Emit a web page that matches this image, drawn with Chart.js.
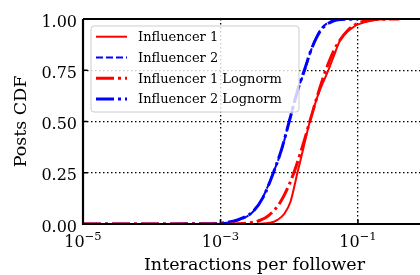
<!DOCTYPE html>
<html>
<head>
<meta charset="utf-8">
<script src="https://cdn.jsdelivr.net/npm/chart.js@4.4.0/dist/chart.umd.min.js"></script>
<style>
  html, body { margin: 0; padding: 0; background: #fff; }
  canvas { display: block; }
</style>
</head>
<body>
<canvas id="cdfChart" width="420" height="275"></canvas>
<script>
// series names (legend order)
const seriesNames = ['Influencer 1', 'Influencer 2', 'Influencer 1 Lognorm', 'Influencer 2 Lognorm'];

// Influencer 1 empirical CDF
const inf1X = [0.00001, 0.002512, 0.005248, 0.006761, 0.008511, 0.01047, 0.01318, 0.01585, 0.01995, 0.0263, 0.03715, 0.04467, 0.0547, 0.08511, 0.1337, 0.2089, 0.3981];
const inf1Y = [0, 0, 0.006, 0.02, 0.05, 0.11, 0.25, 0.361, 0.5, 0.63, 0.75, 0.82, 0.894, 0.96, 0.987, 0.998, 1.0];

// Influencer 2 empirical CDF
const inf2X = [0.00001, 0.000794, 0.00123, 0.001905, 0.002972, 0.004169, 0.005861, 0.007762, 0.01, 0.01349, 0.01694, 0.01995, 0.02799, 0.04365, 0.07079, 0.1, 0.1585];
const inf2Y = [0, 0, 0.006, 0.02, 0.06, 0.133, 0.25, 0.361, 0.5, 0.66, 0.75, 0.83, 0.943, 0.992, 0.999, 1, 1];

// Influencer 1 lognormal fit
const logn1X = [0.00001, 0.001259, 0.002512, 0.003715, 0.005012, 0.007413, 0.01, 0.01259, 0.01585, 0.01995, 0.02512, 0.03162, 0.03981, 0.05012, 0.07079, 0.1, 0.1585, 0.2512, 0.3981];
const logn1Y = [0, 0.0003, 0.0045, 0.017, 0.041, 0.106, 0.192, 0.281, 0.386, 0.5, 0.614, 0.719, 0.808, 0.877, 0.944, 0.979, 0.9955, 0.9993, 1];

// Influencer 2 lognormal fit
const logn2X = [0.00001, 0.000631, 0.001122, 0.001778, 0.002951, 0.004169, 0.005888, 0.007762, 0.01, 0.01349, 0.01698, 0.02089, 0.02818, 0.04365, 0.07079, 0.1];
const logn2Y = [0, 0.001, 0.006, 0.02, 0.06, 0.13, 0.25, 0.365, 0.5, 0.66, 0.76, 0.85, 0.94, 0.99, 0.999, 1];

// axes
const xTickValues = [1e-5, 1e-3, 1e-1];
const xTickExponents = ['\u22125', '\u22123', '\u22121'];
const yTickValues = [0, 0.25, 0.5, 0.75, 1];
const yTickLabels = ['0.00', '0.25', '0.50', '0.75', '1.00'];
const xTitle = 'Interactions per follower';
const yTitle = 'Posts CDF';

const SERIF = '"DejaVu Serif", serif';

function pts(xs, ys) {
    return xs.map((x, i) => ({ x: x, y: ys[i] }));
}

const frame = {
    id: 'frame',
    afterDatasetsDraw(chart) {
        const ctx = chart.ctx;
        const a = chart.chartArea;
        const xs = chart.scales.x, ys = chart.scales.y;
        ctx.save();

        // legend box
        const lx = 91, ly = 26, lw = 208, lh = 86, r = 3;
        ctx.beginPath();
        ctx.moveTo(lx + r, ly);
        ctx.arcTo(lx + lw, ly, lx + lw, ly + lh, r);
        ctx.arcTo(lx + lw, ly + lh, lx, ly + lh, r);
        ctx.arcTo(lx, ly + lh, lx, ly, r);
        ctx.arcTo(lx, ly, lx + lw, ly, r);
        ctx.closePath();
        ctx.fillStyle = 'rgba(255,255,255,0.8)';
        ctx.fill();
        ctx.strokeStyle = '#cccccc';
        ctx.lineWidth = 1;
        ctx.stroke();

        chart.data.datasets.forEach((ds, i) => {
            const cy = 36.7 + i * 20.8;
            ctx.beginPath();
            ctx.setLineDash(ds.borderDash || []);
            ctx.strokeStyle = ds.borderColor;
            ctx.lineWidth = ds.borderWidth;
            ctx.moveTo(96, cy);
            ctx.lineTo(127, cy);
            ctx.stroke();
            ctx.setLineDash([]);
            ctx.fillStyle = '#000';
            ctx.font = '13px ' + SERIF;
            ctx.textAlign = 'left';
            ctx.textBaseline = 'middle';
            ctx.fillText(ds.label, 138, cy + 1);
        });

        // spines
        ctx.strokeStyle = '#000';
        ctx.lineWidth = 2.2;
        ctx.beginPath();
        ctx.moveTo(a.left, a.top);
        ctx.lineTo(a.right, a.top);
        ctx.moveTo(a.left, a.top);
        ctx.lineTo(a.left, a.bottom);
        ctx.moveTo(a.left - 1.1, a.bottom);
        ctx.lineTo(a.right, a.bottom);
        ctx.stroke();

        // inward ticks
        ctx.lineWidth = 1.6;
        ctx.beginPath();
        xTickValues.forEach(v => {
            const px = xs.getPixelForValue(v);
            ctx.moveTo(px, a.bottom);
            ctx.lineTo(px, a.bottom - 4.5);
        });
        yTickValues.forEach(v => {
            const py = ys.getPixelForValue(v);
            ctx.moveTo(a.left, py);
            ctx.lineTo(a.left + 4.5, py);
        });
        ctx.stroke();

        // y tick labels
        ctx.fillStyle = '#000';
        ctx.font = '16px ' + SERIF;
        ctx.textAlign = 'right';
        ctx.textBaseline = 'alphabetic';
        yTickValues.forEach((v, i) => {
            ctx.fillText(yTickLabels[i], a.left - 6, ys.getPixelForValue(v) + 7.5);
        });

        // x tick labels with superscript exponent
        ctx.textAlign = 'left';
        xTickValues.forEach((v, i) => {
            const px = xs.getPixelForValue(v);
            ctx.font = '16px ' + SERIF;
            const wb = ctx.measureText('10').width;
            ctx.font = '11.5px ' + SERIF;
            const we = ctx.measureText(xTickExponents[i]).width;
            const x0 = px - (wb + we) / 2;
            ctx.font = '16px ' + SERIF;
            ctx.fillText('10', x0, 247);
            ctx.font = '11.5px ' + SERIF;
            ctx.fillText(xTickExponents[i], x0 + wb, 240);
        });

        // axis titles
        ctx.font = '17.5px ' + SERIF;
        ctx.textAlign = 'center';
        ctx.textBaseline = 'alphabetic';
        ctx.fillText(xTitle, (a.left + a.right) / 2 + 3, 270);
        ctx.save();
        ctx.translate(26, (a.top + a.bottom) / 2);
        ctx.rotate(-Math.PI / 2);
        ctx.fillText(yTitle, 0, 0);
        ctx.restore();

        ctx.restore();
    }
};

const ctx = document.getElementById('cdfChart').getContext('2d');
new Chart(ctx, {
    type: 'line',
    data: {
        datasets: [
            { label: seriesNames[0], data: pts(inf1X, inf1Y), borderColor: '#ff0000', borderWidth: 2, borderDash: [] },
            { label: seriesNames[1], data: pts(inf2X, inf2Y), borderColor: '#0000ff', borderWidth: 2, borderDash: [7, 3] },
            { label: seriesNames[2], data: pts(logn1X, logn1Y), borderColor: '#ff0000', borderWidth: 3, borderDash: [18, 4, 3, 4] },
            { label: seriesNames[3], data: pts(logn2X, logn2Y), borderColor: '#0000ff', borderWidth: 3, borderDash: [18, 4, 3, 4] }
        ]
    },
    options: {
        responsive: false,
        animation: false,
        devicePixelRatio: 1,
        layout: { padding: { top: 19, right: 0, left: 0, bottom: 0 } },
        elements: {
            point: { radius: 0 },
            line: { cubicInterpolationMode: 'monotone', fill: false }
        },
        plugins: { legend: { display: false }, tooltip: { enabled: false } },
        scales: {
            x: {
                type: 'logarithmic',
                min: 1e-5,
                max: 0.8,
                afterBuildTicks: s => { s.ticks = xTickValues.map(v => ({ value: v })); },
                afterFit: s => { s.height = 51; },
                ticks: { display: false },
                grid: { color: '#000', lineWidth: 1.3, drawTicks: false },
                border: { display: false, dash: [1.5, 2.5] }
            },
            y: {
                min: 0,
                max: 1,
                afterBuildTicks: s => { s.ticks = yTickValues.map(v => ({ value: v })); },
                afterFit: s => { s.width = 83; },
                ticks: { display: false },
                grid: { color: '#000', lineWidth: 1.3, drawTicks: false },
                border: { display: false, dash: [1.5, 2.5] }
            }
        }
    },
    plugins: [frame]
});
</script>
</body>
</html>
